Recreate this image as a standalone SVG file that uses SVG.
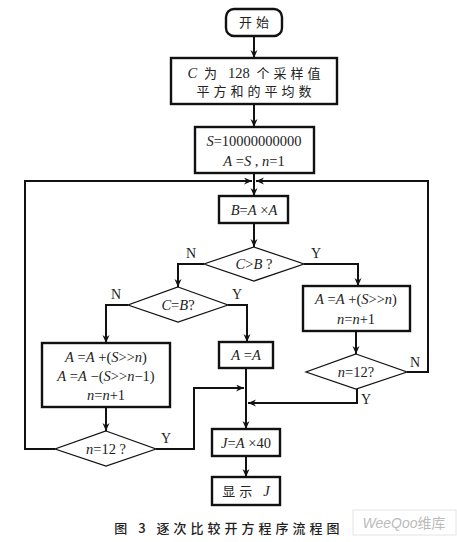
<svg xmlns="http://www.w3.org/2000/svg" width="457" height="542" viewBox="0 0 457 542">
<defs>
<style>
.box{fill:#fff;stroke:#111;stroke-width:2.4}
.dia{fill:#fff;stroke:#111;stroke-width:1.2}
.con{fill:none;stroke:#111;stroke-width:2}
.m{font-family:"Liberation Serif","Times New Roman",serif;font-size:14.5px;fill:#222;text-anchor:middle}
.i{font-style:italic}
.s{font-family:"Liberation Serif","Times New Roman",serif;font-size:14.5px;letter-spacing:0}
.cn{font-family:"Noto Sans CJK SC","Noto Sans",sans-serif;font-size:13px;fill:#222;letter-spacing:4px;text-anchor:middle}
.lb{font-family:"Liberation Serif","Times New Roman",serif;font-size:14px;fill:#222}
.wm{font-family:"Liberation Sans","Noto Sans CJK SC",sans-serif;font-size:14px;fill:#bbb;text-anchor:middle}
</style>
<marker id="ar" markerUnits="userSpaceOnUse" markerWidth="10" markerHeight="8" refX="8" refY="3.5" orient="auto">
<path d="M0,0 L8,3.5 L0,7 L2.5,3.5 z" fill="#111"/>
</marker>
</defs>
<rect width="457" height="542" fill="#fff"/>
<g id="connectors">
<path class="con" d="M254,36 V58" marker-end="url(#ar)"/>
<path class="con" d="M254,104 V127" marker-end="url(#ar)"/>
<path class="con" d="M254,173 V196" marker-end="url(#ar)"/>
<path class="con" d="M55,449 H25 V181 H252" marker-end="url(#ar)"/>
<path class="con" d="M407,372 H428 V181 H256" marker-end="url(#ar)"/>
<path class="con" d="M254,223 V247" marker-end="url(#ar)"/>
<path class="con" d="M204,264 H178 V287" marker-end="url(#ar)"/>
<path class="con" d="M304,264 H358 V286" marker-end="url(#ar)"/>
<path class="con" d="M128,305 H106 V343" marker-end="url(#ar)"/>
<path class="con" d="M228,305 H247 V342" marker-end="url(#ar)"/>
<path class="con" d="M356,331 V354" marker-end="url(#ar)"/>
<path class="con" d="M246,368 V429" marker-end="url(#ar)"/>
<path class="con" d="M156,449 H194 V388 H244" marker-end="url(#ar)"/>
<path class="con" d="M357,389 V403 H248" marker-end="url(#ar)"/>
<path class="con" d="M106,407 V431" marker-end="url(#ar)"/>
<path class="con" d="M246,456 V477" marker-end="url(#ar)"/>
<text class="lb" x="186" y="258">N</text>
<text class="lb" x="311" y="258">Y</text>
<text class="lb" x="111" y="299">N</text>
<text class="lb" x="232" y="299">Y</text>
<text class="lb" x="410" y="367">N</text>
<text class="lb" x="361" y="404">Y</text>
<text class="lb" x="161" y="443">Y</text>
</g>
<g id="start">
<rect class="box" x="226" y="9" width="56" height="27" rx="8"/>
<text class="cn" x="256" y="27" font-size="14">开始</text>
</g>
<g id="calcC">
<rect class="box" x="171" y="58" width="166" height="46"/>
<text class="cn" x="256" y="78"><tspan class="s i">C</tspan> 为 <tspan class="s">128</tspan> 个采样值</text>
<text class="cn" x="256" y="96">平方和的平均数</text>
</g>
<g id="init">
<rect class="box" x="195" y="127" width="119" height="46"/>
<text class="m" x="254" y="146"><tspan class="i">S</tspan>=10000000000</text>
<text class="m" x="254" y="166"><tspan class="i">A</tspan> =<tspan class="i">S</tspan> , <tspan class="i">n</tspan>=1</text>
</g>
<g id="calcB">
<rect class="box" x="219" y="196" width="69" height="27"/>
<text class="m" x="254" y="215"><tspan class="i">B</tspan>=<tspan class="i">A</tspan> ×<tspan class="i">A</tspan></text>
</g>
<g id="cmpGT">
<polygon class="dia" points="254,247 304,264 254,281 204,264"/>
<text class="m" x="254" y="269"><tspan class="i">C</tspan>&gt;<tspan class="i">B</tspan> ?</text>
</g>
<g id="cmpEQ">
<polygon class="dia" points="178,287 228,305 178,322 128,305"/>
<text class="m" x="178" y="310"><tspan class="i">C</tspan>=<tspan class="i">B</tspan>?</text>
</g>
<g id="incA">
<rect class="box" x="303" y="286" width="107" height="45"/>
<text class="m" x="356" y="304"><tspan class="i">A</tspan> =<tspan class="i">A</tspan> +(<tspan class="i">S</tspan>&gt;&gt;<tspan class="i">n</tspan>)</text>
<text class="m" x="356" y="324"><tspan class="i">n</tspan>=<tspan class="i">n</tspan>+1</text>
</g>
<g id="checkR">
<polygon class="dia" points="356,354 407,372 356,389 306,372"/>
<text class="m" x="356" y="377"><tspan class="i">n</tspan>=12?</text>
</g>
<g id="keepA">
<rect class="box" x="219" y="342" width="54" height="26"/>
<text class="m" x="246" y="360"><tspan class="i">A</tspan> =<tspan class="i">A</tspan></text>
</g>
<g id="adjA">
<rect class="box" x="42" y="343" width="128" height="64"/>
<text class="m" x="106" y="362"><tspan class="i">A</tspan> =<tspan class="i">A</tspan> +(<tspan class="i">S</tspan>&gt;&gt;<tspan class="i">n</tspan>)</text>
<text class="m" x="106" y="381"><tspan class="i">A</tspan> =<tspan class="i">A</tspan> −(<tspan class="i">S</tspan>&gt;&gt;<tspan class="i">n</tspan>−1)</text>
<text class="m" x="106" y="400"><tspan class="i">n</tspan>=<tspan class="i">n</tspan>+1</text>
</g>
<g id="checkL">
<polygon class="dia" points="106,431 156,449 106,466 55,449"/>
<text class="m" x="106" y="454"><tspan class="i">n</tspan>=12 ?</text>
</g>
<g id="calcJ">
<rect class="box" x="212" y="429" width="68" height="27"/>
<text class="m" x="246" y="448"><tspan class="i">J</tspan>=<tspan class="i">A</tspan> ×40</text>
</g>
<g id="show">
<rect class="box" x="212" y="477" width="68" height="28"/>
<text class="cn" x="246" y="496">显示 <tspan class="s i">J</tspan></text>
</g>
<g id="caption">
<text class="cn" x="229" y="533" font-size="13" letter-spacing="7" font-weight="500">图 3  逐次比较开方程序流程图</text>
</g>
<g id="watermark">
<rect x="353" y="510" width="103" height="25" fill="#fff" stroke="#e4e4e4" stroke-width="1"/>
<text class="wm" x="404" y="528"><tspan font-style="italic">WeeQoo</tspan>维库</text>
</g>
</svg>
